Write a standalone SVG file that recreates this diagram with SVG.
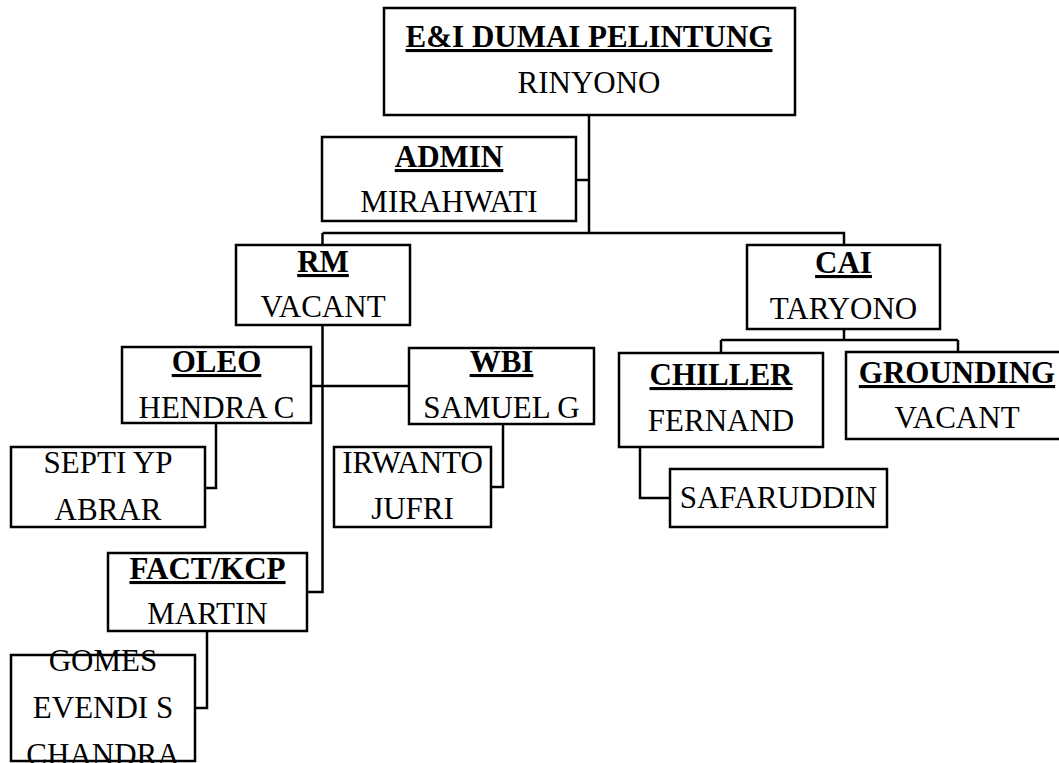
<svg xmlns="http://www.w3.org/2000/svg" width="1059" height="763" viewBox="0 0 1059 763">
<style>
rect{fill:#fff;stroke:#000;stroke-width:2.5}
.c path{fill:none;stroke:#000;stroke-width:2.5}
text{font-family:"Liberation Serif","Times New Roman",serif;font-size:31px;fill:#000;text-anchor:middle}
.t{font-weight:bold;text-decoration:underline}
</style>
<rect width="1059" height="763" style="fill:#fff;stroke:none"/>
<g class="c" id="connectors">
<path d="M589,115 V233 M576,180 H589 M322.5,233 H844 V245 M322.5,233 V245"/>
<path d="M322.5,325 V592 H307 M311,386 H409"/>
<path d="M216,423 V488 H205 M503,424 V487 H491 M207,631 V708 H195"/>
<path d="M844,329 V340 M721,340 H958 M721,340 V353 M958,340 V352 M640,447 V498 H670"/>
</g>
<g id="top"><rect x="384" y="8" width="411" height="107"/><text class="t" x="589" y="47">E&amp;I DUMAI PELINTUNG</text><text x="589" y="93">RINYONO</text></g>
<g id="admin"><rect x="322" y="137" width="254" height="84"/><text class="t" x="449" y="167">ADMIN</text><text x="449" y="212">MIRAHWATI</text></g>
<g id="rm"><rect x="236" y="245" width="174" height="80"/><text class="t" x="323" y="272">RM</text><text x="323" y="317">VACANT</text></g>
<g id="cai"><rect x="747" y="245" width="193" height="84"/><text class="t" x="843.5" y="273">CAI</text><text x="843.5" y="319">TARYONO</text></g>
<g id="oleo"><rect x="122" y="347" width="189" height="76"/><text class="t" x="216.5" y="372">OLEO</text><text x="216.5" y="418">HENDRA C</text></g>
<g id="wbi"><rect x="409" y="348" width="185" height="76"/><text class="t" x="501.5" y="372">WBI</text><text x="501.5" y="418">SAMUEL G</text></g>
<g id="septi"><rect x="11" y="447" width="194" height="80"/><text x="108" y="473">SEPTI YP</text><text x="108" y="520">ABRAR</text></g>
<g id="irwanto"><rect x="334" y="447" width="157" height="80"/><text x="412.5" y="473">IRWANTO</text><text x="412.5" y="519">JUFRI</text></g>
<g id="fact"><rect x="108" y="553" width="199" height="78"/><text class="t" x="207.5" y="579">FACT/KCP</text><text x="207.5" y="624">MARTIN</text></g>
<g id="gomes"><rect x="11" y="655" width="184" height="106"/><text x="103" y="671">GOMES</text><text x="103" y="718">EVENDI S</text><text x="103" y="765">CHANDRA</text></g>
<g id="chiller"><rect x="619" y="353" width="204" height="94"/><text class="t" x="721" y="385">CHILLER</text><text x="721" y="431">FERNAND</text></g>
<g id="grounding"><rect x="846" y="352" width="222" height="87"/><text class="t" x="957" y="383">GROUNDING</text><text x="957" y="428">VACANT</text></g>
<g id="safaruddin"><rect x="670" y="469" width="217" height="58"/><text x="778.5" y="508">SAFARUDDIN</text></g>
</svg>
